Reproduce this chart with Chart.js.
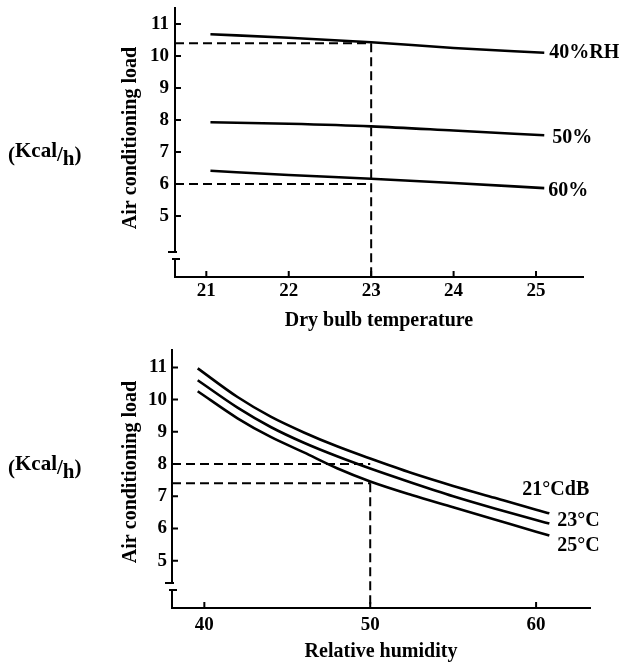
<!DOCTYPE html>
<html>
<head>
<meta charset="utf-8">
<script src="https://cdn.jsdelivr.net/npm/chart.js@4.4.0/dist/chart.umd.min.js"></script>
<style>
  body { margin: 0; background: #fff; }
  #wrap { position: relative; width: 622px; height: 669px; overflow: hidden; background: #fff; }
  canvas { position: absolute; left: 0; }
  #topChart { top: 0; }
  #bottomChart { top: 340px; }
  .unit { position: absolute; left: 8px; font: bold 21px "Liberation Serif", serif; color: #000; white-space: nowrap; line-height: 24px; }
  .unit .up { position: relative; top: -4px; }
  .unit .dn { position: relative; top: 4px; }
</style>
</head>
<body>
<div id="wrap">
  <canvas id="topChart" width="622" height="340"></canvas>
  <canvas id="bottomChart" width="622" height="329"></canvas>
  <div class="unit" style="top:142px">(<span class="up">Kcal</span>/<span class="dn">h</span>)</div>
  <div class="unit" style="top:455px">(<span class="up">Kcal</span>/<span class="dn">h</span>)</div>
</div>
<script>
// 上图：空调负荷 - 干球温度
const dryBulbX = [21.05, 22, 23, 24, 25.1];
const loadRH40 = [10.68, 10.57, 10.43, 10.25, 10.10];
const loadRH50 = [7.93, 7.88, 7.80, 7.67, 7.52];
const loadRH60 = [6.41, 6.28, 6.16, 6.03, 5.87];
const rhLabels = ['40%RH', '50%', '60%'];
const dryBulbTicks = [21, 22, 23, 24, 25];
const topGuideX = 23;
const topGuideY = [10.4, 6.0];
const topGuideFrom = 10.4;

// 下图：空调负荷 - 相对湿度
const humidityX = [39.6, 42, 44, 46, 48, 50, 52.5, 55, 57.5, 60, 60.8];
const loadDB21 = [10.97, 10.08, 9.47, 8.98, 8.55, 8.17, 7.72, 7.32, 6.95, 6.58, 6.47];
const loadDB23 = [10.60, 9.75, 9.15, 8.66, 8.24, 7.86, 7.42, 7.00, 6.62, 6.26, 6.15];
const loadDB25 = [10.26, 9.42, 8.84, 8.36, 7.87, 7.46, 7.04, 6.66, 6.28, 5.90, 5.78];
const dbLabels = ['21°CdB', '23°C', '25°C'];
const humidityTicks = [40, 50, 60];
const bottomGuideX = 50;
const bottomGuideY = [8.0, 7.4];
const bottomGuideFrom = 7.4;

const loadTicks = [5, 6, 7, 8, 9, 10, 11];

const FONT = '"Liberation Serif", "Times New Roman", serif';

// 坐标轴内侧刻度、虚线、断轴符号、曲线标签、纵轴标题
const decorPlugin = {
  id: 'decor',
  afterDraw(chart, args, opts) {
    const ctx = chart.ctx;
    const area = chart.chartArea;
    const xs = chart.scales.x;
    const ys = chart.scales.y;
    ctx.save();
    ctx.strokeStyle = '#000';
    ctx.fillStyle = '#000';
    ctx.lineWidth = 2;

    // inward ticks
    ctx.beginPath();
    ys.ticks.forEach(t => {
      const py = ys.getPixelForValue(t.value);
      ctx.moveTo(area.left, py);
      ctx.lineTo(area.left + 6, py);
    });
    xs.ticks.forEach(t => {
      const px = xs.getPixelForValue(t.value);
      ctx.moveTo(px, area.bottom);
      ctx.lineTo(px, area.bottom - 6);
    });
    ctx.stroke();

    // dashed guide lines
    ctx.setLineDash([9, 5]);
    const gx = xs.getPixelForValue(opts.guideX);
    ctx.beginPath();
    opts.guideY.forEach(v => {
      const py = ys.getPixelForValue(v);
      ctx.moveTo(area.left, py);
      ctx.lineTo(gx, py);
    });
    ctx.moveTo(gx, ys.getPixelForValue(opts.guideFrom));
    ctx.lineTo(gx, area.bottom);
    ctx.stroke();
    ctx.setLineDash([]);

    // axis break
    const b1 = area.bottom - 25, b2 = area.bottom - 18;
    ctx.fillStyle = '#fff';
    ctx.fillRect(area.left - 3, b1, 6, b2 - b1);
    ctx.fillStyle = '#000';
    ctx.beginPath();
    ctx.moveTo(area.left - 7, b1);
    ctx.lineTo(area.left + 2, b1);
    ctx.moveTo(area.left - 3, b2);
    ctx.lineTo(area.left + 5, b2);
    ctx.stroke();

    // series labels at line ends
    ctx.font = 'bold 20px ' + FONT;
    ctx.textAlign = 'left';
    ctx.textBaseline = 'middle';
    opts.labels.forEach((lab, i) => {
      const meta = chart.getDatasetMeta(i);
      const last = meta.data[meta.data.length - 1];
      ctx.fillText(lab, last.x + opts.labelOffsets[i][0], last.y + opts.labelOffsets[i][1]);
    });

    // y axis title
    ctx.font = 'bold 20px ' + FONT;
    ctx.textAlign = 'center';
    ctx.translate(opts.yTitlePos[0], opts.yTitlePos[1]);
    ctx.rotate(-Math.PI / 2);
    ctx.fillText('Air conditioning load', 0, 0);
    ctx.restore();
  }
};

function buildChart(id, cfg) {
  const datasets = cfg.series.map(s => ({
    data: cfg.x.map((x, i) => ({ x: x, y: s[i] })),
    borderColor: '#000',
    borderWidth: 2.6,
    pointRadius: 0,
    fill: false,
    cubicInterpolationMode: 'monotone'
  }));
  return new Chart(document.getElementById(id), {
    type: 'line',
    data: { datasets: datasets },
    options: {
      responsive: false,
      animation: false,
      layout: { padding: cfg.padding },
      plugins: {
        legend: { display: false },
        tooltip: { enabled: false },
        decor: cfg.decor
      },
      scales: {
        x: {
          type: 'linear',
          min: cfg.xMin,
          max: cfg.xMax,
          afterBuildTicks: s => { s.ticks = cfg.xTicks.map(v => ({ value: v })); },
          afterFit: s => { s.height = 56; s.paddingLeft = 0; s.paddingRight = 0; },
          grid: { display: false, drawTicks: false },
          border: { display: true, color: '#000', width: 2 },
          ticks: { padding: cfg.xTickPad, color: '#000', font: { family: FONT, size: 19, weight: 'bold' } },
          title: { display: true, text: cfg.xTitle, color: '#000', padding: 0, font: { family: FONT, size: 20, weight: 'bold' } }
        },
        y: {
          type: 'linear',
          min: cfg.yMin,
          max: cfg.yMax,
          afterBuildTicks: s => { s.ticks = loadTicks.map(v => ({ value: v })); },
          afterFit: s => { s.width = 60; s.paddingTop = 0; s.paddingBottom = 0; },
          grid: { display: false, drawTicks: false },
          border: { display: true, color: '#000', width: 2 },
          ticks: { padding: cfg.yTickPad, color: '#000', font: { family: FONT, size: 19, weight: 'bold' } }
        }
      }
    },
    plugins: [decorPlugin]
  });
}

document.addEventListener('DOMContentLoaded', function() {
  buildChart('topChart', {
    x: dryBulbX,
    series: [loadRH40, loadRH50, loadRH60],
    xMin: 20.62, xMax: 25.57,
    yMin: 3.09, yMax: 11.5,
    xTicks: dryBulbTicks,
    xTitle: 'Dry bulb temperature',
    xTickPad: 3, yTickPad: 6,
    padding: { left: 115, right: 39, top: 8, bottom: 7 },
    decor: {
      guideX: topGuideX, guideY: topGuideY, guideFrom: topGuideFrom,
      labels: rhLabels,
      labelOffsets: [[5, 0], [8, 3], [4, 3]],
      yTitlePos: [131, 138]
    }
  });

  buildChart('bottomChart', {
    x: humidityX,
    series: [loadDB21, loadDB23, loadDB25],
    xMin: 38.05, xMax: 63.25,
    yMin: 3.53, yMax: 11.54,
    xTicks: humidityTicks,
    xTitle: 'Relative humidity',
    xTickPad: 6, yTickPad: 5,
    padding: { left: 112, right: 32, top: 10, bottom: 5 },
    decor: {
      guideX: bottomGuideX, guideY: bottomGuideY, guideFrom: bottomGuideFrom,
      labels: dbLabels,
      labelOffsets: [[-27, -23], [8, -3], [8, 10]],
      yTitlePos: [131, 132]
    }
  });
});
</script>
</body>
</html>
